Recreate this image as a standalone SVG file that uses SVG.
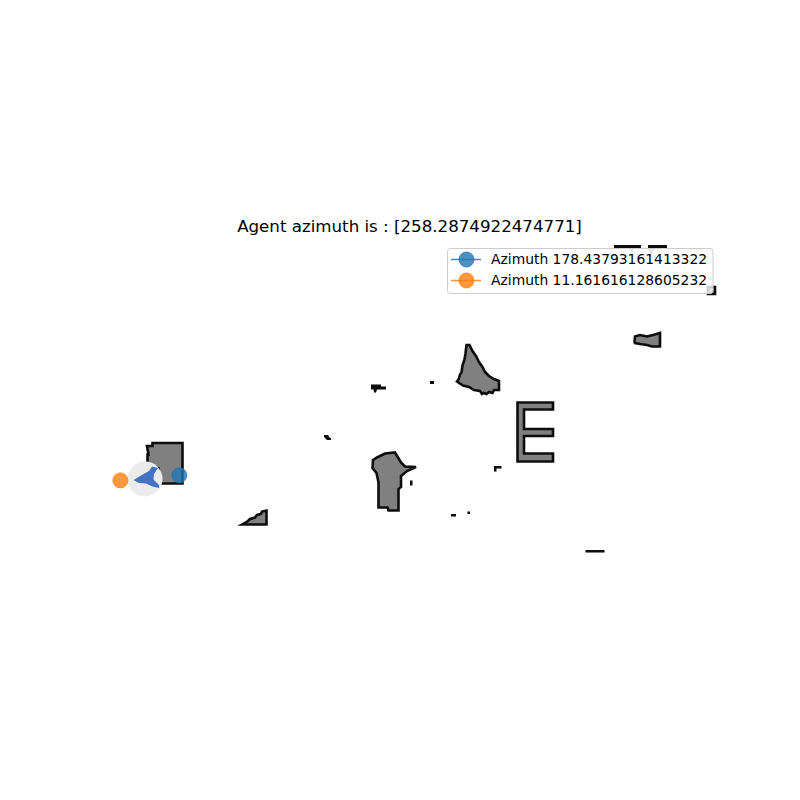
<svg xmlns="http://www.w3.org/2000/svg" width="800" height="800" viewBox="0 0 800 800">
<defs><filter id="soft" x="-5%" y="-5%" width="110%" height="110%"><feGaussianBlur stdDeviation="0.45"/></filter></defs>
<style>
.o{fill:#808080;stroke:#0c0c0c;stroke-width:2.6;stroke-linejoin:miter}
.k{fill:#0c0c0c;stroke:none}
text{font-family:"DejaVu Sans",sans-serif;fill:#000}
.l{font-size:13.89px}
</style>
<rect width="800" height="800" fill="#fff"/>
<g id="map" filter="url(#soft)">
<path class="k" d="M614 245h27v3.500h-27zM648 245h19v3.500h-19z"/>
<path d="M628 248h7l-3 5zM648 248h7l-4 10z" fill="#808080"/>
<path class="o" d="M708 287h7v7h-7z"/>
<path class="o" d="M635 336.500l5-1.500 7 1.500 6-1.500 7-2v13.500h-8l-5-1.500-7-1-5-1-.5-1z"/>
<path class="o" d="M466.500 345h3l3 6 3.500 5 3 6 3.500 5 2.500 5 4 4 5 3 5 2v9h-5l-1.500 3-3.500-1-2.500 2-3-1-1.500 1-2-3-6-1-5-3-6-1.500-6-4 1.500-2 1.500-5 1.500-2 1-7 2-6 1-6z"/>
<path class="k" d="M371 384.500h10v2h5v3h-9l-1 3h-2l-.5-3h-2.500z"/>
<path class="k" d="M430 381h4v3h-4z"/>
<path class="o" d="M517.500 402.500h35.500v7h-29v19.500h29v7h-29v17.500h29v8h-35.500z"/>
<path class="k" d="M324 435h4l2 3h1v2h-4l-3-3z"/>
<path class="o" d="M147 446h5.500v-3h30v40.500h-24v-15h-11v-14l1 0z"/>
<path class="o" d="M373 460l4-2.500 8-4 10-1 3 5 3 5 4 4 11 .500-9 4-6 5v11l-2.500 2v21.500h-10l-1-3h-9v-25l-2-9.500-4-5z"/>
<path class="k" d="M410 480.500h2.500v5h-2.500z"/>
<path class="k" d="M494 466h7.500v2.500h-5v3h-2.500z"/>
<path class="k" d="M451 514h5v2.500h-5zM467.500 511.500h2.500v2.500h-2.500z"/>
<path class="k" d="M585.500 550h19v2.500h-19z"/>
<path class="o" d="M242 524.500l6-3.500 2-2 5-1.500 2-2.500 4-1 1-2.500 4.500-1v14z"/>
</g>
<g id="agent" filter="url(#soft)">
<circle cx="145" cy="479" r="17.500" fill="#ececec"/>
<path d="M133.500 480l10-6 5.500-3 3-4.500 6 1.500-4 6-.5 5.500 5.500 5.500 0 3-6.500-1.500-6.500-3-7-.5z" fill="#4472c4"/>
</g>
<g id="markers">
<circle id="azimuth-blue" cx="179.300" cy="475.300" r="7.500" fill="#1f77b4" fill-opacity=".8" stroke="#1f77b4" stroke-opacity=".8"/>
<circle id="azimuth-orange" cx="120.400" cy="480.400" r="7.500" fill="#ff7f0e" fill-opacity=".8" stroke="#ff7f0e" stroke-opacity=".8"/>
</g>
<text x="409.500" y="232" text-anchor="middle" font-size="16.670">Agent azimuth is : [258.2874922474771]</text>
<g id="legend">
<rect x="447.500" y="248.500" width="265.500" height="45" rx="3" fill="#fff" fill-opacity=".8" stroke="#ccc"/>
<path d="M451 259.500h30" stroke="#1f77b4" stroke-width="1.500" opacity=".85"/>
<circle cx="466.500" cy="259.500" r="7.500" fill="#1f77b4" fill-opacity=".8" stroke="#1f77b4" stroke-opacity=".8"/>
<text class="l" x="491" y="264">Azimuth 178.43793161413322</text>
<path d="M451 280.500h30" stroke="#ff7f0e" stroke-width="1.500" opacity=".85"/>
<circle cx="466.500" cy="280.500" r="7.500" fill="#ff7f0e" fill-opacity=".8" stroke="#ff7f0e" stroke-opacity=".8"/>
<text class="l" x="491" y="285">Azimuth 11.161616128605232</text>
</g>
</svg>
